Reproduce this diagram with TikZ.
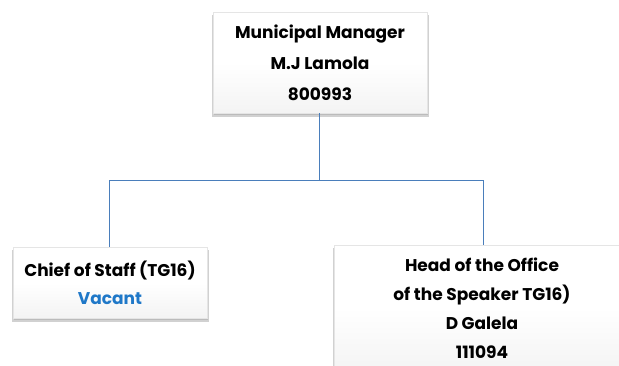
\documentclass[tikz,border=0pt]{standalone}
\usepackage{fontspec}
\setmainfont{Poppins}
\usetikzlibrary{shadows}
\definecolor{linkblue}{HTML}{4A7EBB}
\definecolor{vacantblue}{HTML}{1F78C8}
\begin{document}
\begin{tikzpicture}[x=1pt,y=-1pt,
  orgbox/.style={draw=gray!20, line width=0.4pt, top color=white, bottom color=gray!9,
    middle color=white, shading angle=0,
    general shadow={shadow xshift=0.5pt, shadow yshift=-3.5pt, shadow scale=1.012,
      opacity=0.4, fill=gray!90},
    general shadow={shadow xshift=1pt, shadow yshift=-2pt,
      opacity=0.4, fill=gray!80},
    align=center, inner sep=0pt,
    font={\fontsize{17}{31}\selectfont\bfseries}},
  link/.style={draw=linkblue, line width=0.9pt}]
  \useasboundingbox (0,0) rectangle (619,365);
  \clip (0,0) rectangle (619,365);
  % top level
  \node[orgbox, minimum width=214pt, minimum height=101pt] (mm) at (320,62.5)
    {Municipal Manager\\M.J Lamola\\800993};
  % second level
  \node[orgbox, minimum width=194pt, minimum height=71pt,
        font={\fontsize{17}{28}\selectfont\bfseries}] (cos) at (110,282.5)
    {Chief of Staff (TG16)\\\textcolor{vacantblue}{Vacant}};
  \node[orgbox, minimum width=296pt, minimum height=126pt,
        font={\fontsize{17}{29}\selectfont\bfseries}] (hos) at (482,308)
    {Head of the Office\\of the Speaker TG16)\\D Galela\\111094};
  % connectors
  \coordinate (bus) at (319,180);
  \draw[link] (mm.south -| bus) -- (bus);
  \draw[link] (bus) -| (cos.north -| 109,0);
  \draw[link] (bus) -| (hos.north -| 483,0);
\end{tikzpicture}
\end{document}
